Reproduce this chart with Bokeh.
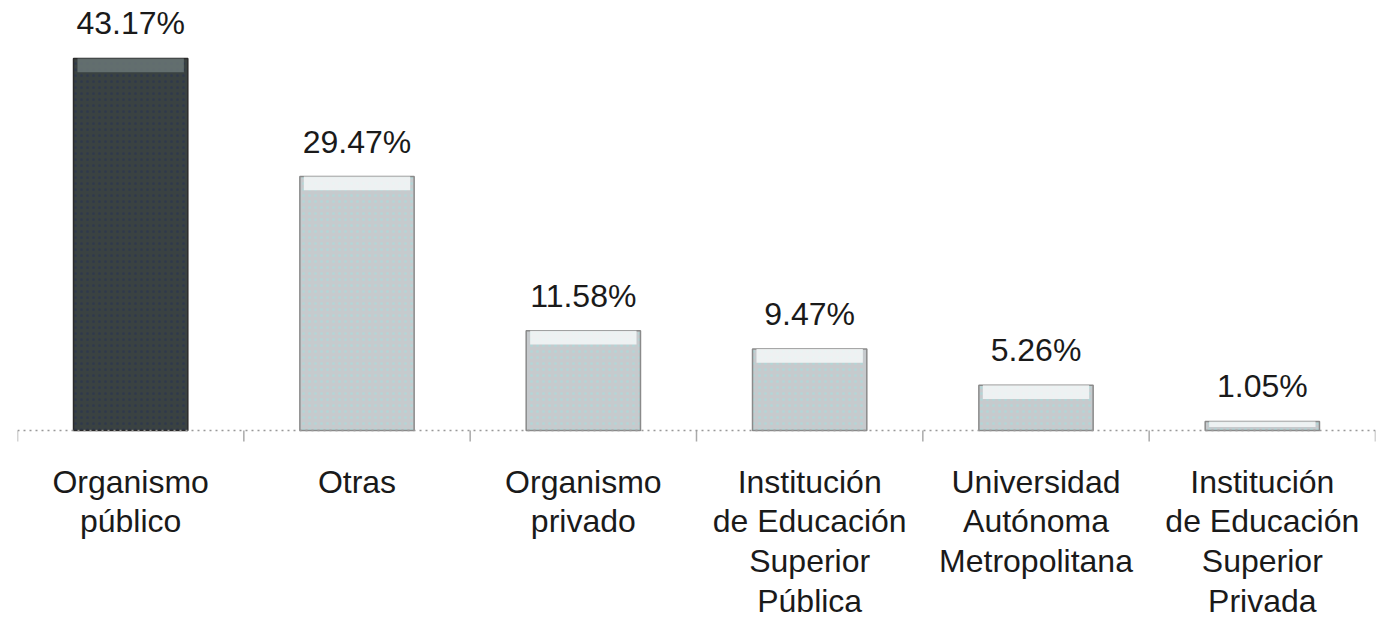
import math
from bokeh.plotting import figure
from bokeh.models import ColumnDataSource, Range1d, Span
from bokeh.core.properties import value
from bokeh.embed import file_html
from bokeh.resources import INLINE

categories = ["Organismo\npúblico", "Otras", "Organismo\nprivado",
              "Institución\nde Educación\nSuperior\nPública",
              "Universidad\nAutónoma\nMetropolitana",
              "Institución\nde Educación\nSuperior\nPrivada"]
values = [43.17, 29.47, 11.58, 9.47, 5.26, 1.05]
labels = ["43.17%", "29.47%", "11.58%", "9.47%", "5.26%", "1.05%"]
fills = ["#3a4242", "#c6cacd", "#c6cacd", "#c6cacd", "#c6cacd", "#c6cacd"]
hatch_cols = ["#2a3450", "#a8dcdc", "#a8dcdc", "#a8dcdc", "#a8dcdc", "#a8dcdc"]
edges = ["#2a2a2a", "#8a8a8a", "#8a8a8a", "#8a8a8a", "#8a8a8a", "#8a8a8a"]
tops = ["#6a7676", "#f4f8f8", "#f4f8f8", "#f4f8f8", "#f4f8f8", "#f4f8f8"]

xs = list(range(len(values)))
bounds = [i - 0.5 for i in range(len(values) + 1)]
strip = [min(1.6, v * 0.6) for v in values]
src = ColumnDataSource(dict(x=xs, top=values, fill=fills, hc=hatch_cols, edge=edges,
                            topc=tops, sbot=[v - s for v, s in zip(values, strip)],
                            lab=labels, cat=categories, zero=[0] * len(values)))

p = figure(width=1383, height=622, output_backend="svg", toolbar_location=None,
           x_range=Range1d(-0.5, 5.5), y_range=Range1d(-22.28, 49.9),
           min_border_left=17, min_border_right=8, min_border_top=0, min_border_bottom=0)
p.outline_line_color = None
p.grid.visible = False
p.axis.visible = False

p.vbar(x="x", top="top", bottom=0, width=0.505, source=src, fill_color="fill",
       line_color="edge", line_width=1.5, hatch_pattern="dot", hatch_color="hc",
       hatch_scale=6, hatch_alpha=0.6)
p.vbar(x="x", top="top", bottom="sbot", width=0.47, source=src, fill_color="topc",
       line_color=None, fill_alpha=0.85)

# category axis: dotted baseline with ticks at category boundaries
p.add_layout(Span(location=0, dimension="width", line_color="#999999",
                  line_dash="2 4", line_width=1.5))
p.ray(x=bounds, y=[0] * len(bounds), length=11, length_units="screen",
      angle=-math.pi / 2, line_color="#aaaaaa", line_width=1.5)

p.text(x="x", y="top", text="lab", source=src, text_align="center",
       text_baseline="alphabetic", y_offset=-35, text_font=value("Liberation Sans"),
       text_font_size="32px", text_color="#1a1a1a")

p.text(x="x", y="zero", text="cat", source=src, text_align="center",
       text_baseline="top", y_offset=33, text_font=value("Liberation Sans"),
       text_font_size="32px", text_color="#1a1a1a", text_line_height=1.11)

open("out.html", "w").write(file_html(p, INLINE))
